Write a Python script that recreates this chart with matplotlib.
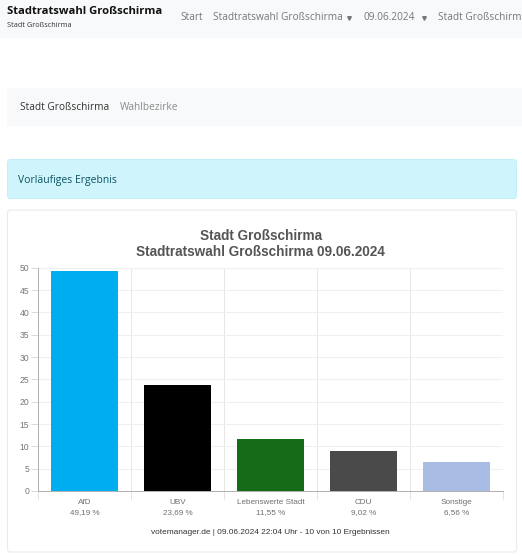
import matplotlib
matplotlib.use('Agg')
import matplotlib.pyplot as plt
from matplotlib.patches import Rectangle, FancyBboxPatch

parties = ['AfD', 'UBV', 'Lebenswerte Stadt', 'CDU', 'Sonstige']
values = [49.19, 23.69, 11.55, 9.02, 6.56]
value_labels = ['49,19 %', '23,69 %', '11,55 %', '9,02 %', '6,56 %']
colors = ['#00aeef', '#000000', '#166c16', '#4a4a4a', '#a9bce3']
yticks = [0, 5, 10, 15, 20, 25, 30, 35, 40, 45, 50]

W, H = 522, 556
fig = plt.figure(figsize=(W / 100, H / 100), dpi=100, facecolor='white')

# page around the chart, in pixel coordinates
page = fig.add_axes([0, 0, 1, 1])
page.set_xlim(0, W)
page.set_ylim(H, 0)
page.axis('off')

ui = ['Open Sans', 'DejaVu Sans']
chart_font = ['Liberation Sans', 'DejaVu Sans']

page.add_patch(Rectangle((0, 0), W, 37.7, fc='#f8f9fa', ec='none'))
page.text(7, 11, 'Stadtratswahl Großschirma', family=ui, fontsize=8.1, weight='bold', color='#111111', va='center')
page.text(7, 25.5, 'Stadt Großschirma', family=ui, fontsize=5.3, color='#333333', va='center')
page.text(180, 18, 'Start', family=ui, fontsize=7.3, color='#777777', va='center')
page.text(213, 18, 'Stadtratswahl Großschirma', family=ui, fontsize=7.3, color='#777777', va='center')
page.text(364, 18, '09.06.2024', family=ui, fontsize=7.3, color='#777777', va='center')
page.text(438, 18, 'Stadt Großschirma', family=ui, fontsize=7.3, color='#777777', va='center', clip_on=True)
page.plot([348.5, 424], [17.5, 17.5], ls='none', marker='v', ms=2.6, color='#777777')

page.add_patch(Rectangle((7, 88), W - 7, 38, fc='#f8f9fa', ec='none'))
page.text(20.5, 108, 'Stadt Großschirma', family=ui, fontsize=7.3, color='#333333', va='center')
page.text(120, 108, 'Wahlbezirke', family=ui, fontsize=7.3, color='#8a8a8a', va='center')

page.add_patch(FancyBboxPatch((7.5, 159.5), 509, 39, boxstyle='round,pad=0,rounding_size=3',
                              fc='#cff4fc', ec='#bff0fa', lw=0.7))
page.text(18.5, 180, 'Vorläufiges Ergebnis', family=ui, fontsize=7.5, color='#0b5563', va='center')

page.add_patch(FancyBboxPatch((7.5, 210), 509, 342, boxstyle='round,pad=0,rounding_size=3',
                              fc='white', ec='#ebebeb', lw=0.8))
page.text(261.5, 236, 'Stadt Großschirma', family=chart_font, fontsize=9.8, weight='bold', color='#555555',
          ha='center', va='center')
page.text(260, 252.5, 'Stadtratswahl Großschirma 09.06.2024', family=chart_font, fontsize=9.8, weight='bold',
          color='#555555', ha='center', va='center')
page.text(270.5, 532.5, 'votemanager.de | 09.06.2024 22:04 Uhr - 10 von 10 Ergebnissen', family=chart_font,
          fontsize=5.95, color='#333333', ha='center', va='center')

# bar chart
ax = fig.add_axes([38.2 / W, (H - 491) / H, 465 / W, 223.3 / H])
ax.patch.set_alpha(0)
ax.bar(range(len(values)), values, width=0.72, color=colors, zorder=3)
ax.set_xlim(-0.5, len(values) - 0.5)
ax.set_ylim(0, 50)
ax.set_yticks(yticks)
ax.set_xticks([i - 0.5 for i in range(len(values) + 1)])
ax.set_xticklabels([])
ax.grid(axis='y', color='#f0f0f0', lw=0.8, zorder=0)
ax.grid(axis='x', color='#e2e2e2', lw=0.6, zorder=0)
ax.tick_params(axis='y', length=5, width=0.6, color='#d4d4d4', labelsize=6.2, labelcolor='#777777', pad=1.5)
ax.tick_params(axis='x', length=6, width=0.6, color='#dddddd')
for label in ax.get_yticklabels():
    label.set_family(chart_font)
for side in ['top', 'right']:
    ax.spines[side].set_visible(False)
for side in ['left', 'bottom']:
    ax.spines[side].set_color('#b0b0b0')
    ax.spines[side].set_linewidth(0.7)

for i in range(len(values)):
    ax.annotate(parties[i], (i, 0), xytext=(0, -8.4), xycoords='data', textcoords='offset points',
                family=chart_font, fontsize=5.9, color='#707070', ha='center', va='center')
    ax.annotate(value_labels[i], (i, 0), xytext=(0, -15.3), xycoords='data', textcoords='offset points',
                family=chart_font, fontsize=5.9, color='#707070', ha='center', va='center')

fig.savefig('out.png', dpi=100)
